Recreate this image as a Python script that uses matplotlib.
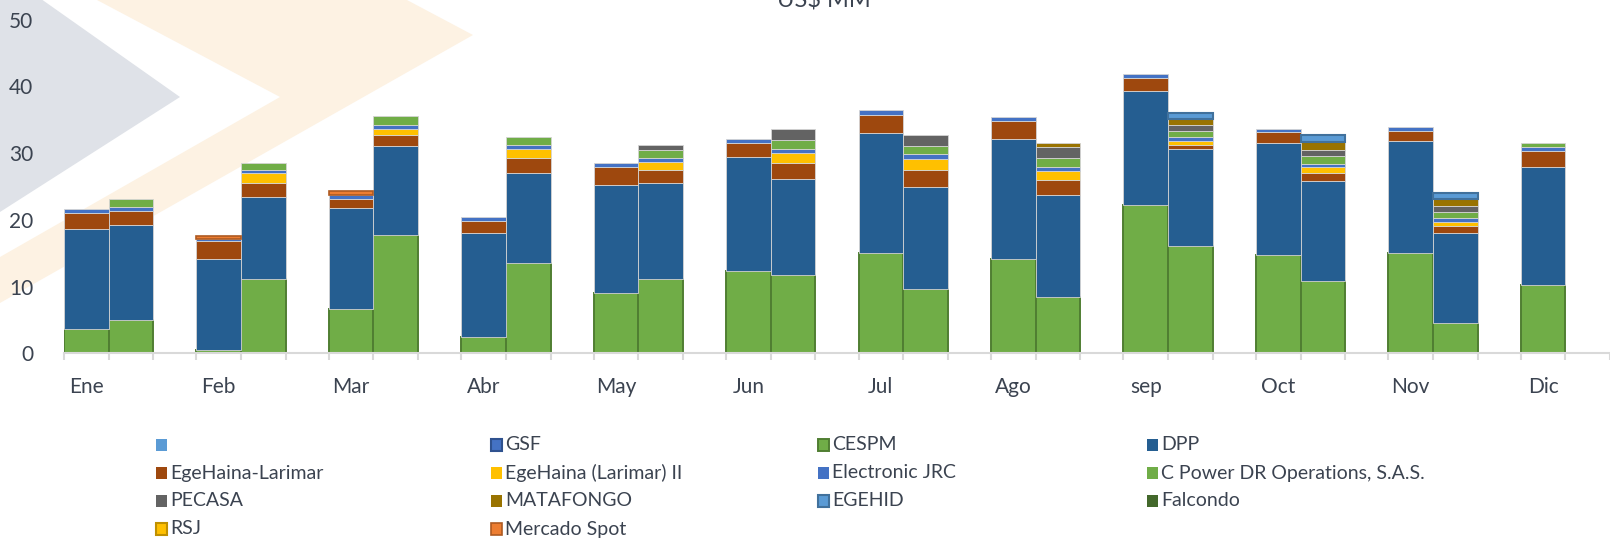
import numpy as np
import matplotlib
matplotlib.use('Agg')
import matplotlib.pyplot as plt
from matplotlib.patches import Polygon, Rectangle

plt.rcParams['font.family'] = ['Lato', 'DejaVu Sans']

months = ['Ene', 'Feb', 'Mar', 'Abr', 'May', 'Jun', 'Jul', 'Ago', 'sep', 'Oct', 'Nov', 'Dic']

# first bar of each month (US$ MM)
cespm_a = [3.7, 0.5, 6.6, 2.5, 9.0, 12.3, 15.0, 14.2, 22.3, 14.8, 15.0, 10.3]
dpp_a = [14.9, 13.6, 15.2, 15.6, 16.3, 17.1, 18.0, 17.9, 17.0, 16.8, 16.9, 17.6]
larimar_a = [2.4, 2.7, 1.4, 1.8, 2.6, 2.2, 2.8, 2.7, 2.0, 1.6, 1.5, 2.5]
larimar2_a = [0, 0, 0, 0, 0, 0, 0, 0, 0, 0, 0, 0]
jrc_a = [0.6, 0.4, 0.5, 0.6, 0.6, 0.5, 0.7, 0.6, 0.6, 0.5, 0.5, 0.5]
cpower_a = [0, 0, 0, 0, 0, 0, 0, 0, 0, 0, 0, 0.7]
pecasa_a = [0, 0, 0, 0, 0, 0, 0, 0, 0, 0, 0, 0]
matafongo_a = [0, 0, 0, 0, 0, 0, 0, 0, 0, 0, 0, 0]
egehid_a = [0, 0, 0, 0, 0, 0, 0, 0, 0, 0, 0, 0]
spot_a = [0, 0.4, 0.6, 0, 0, 0, 0, 0, 0, 0, 0, 0]

# second bar of each month (no December value)
cespm_b = [5.0, 11.2, 17.7, 13.5, 11.1, 11.7, 9.6, 8.4, 16.1, 10.9, 4.6, 0]
dpp_b = [14.3, 12.2, 13.4, 13.6, 14.4, 14.4, 15.3, 15.4, 14.5, 15.0, 13.5, 0]
larimar_b = [2.1, 2.1, 1.6, 2.2, 2.0, 2.5, 2.6, 2.2, 0.6, 1.2, 1.0, 0]
larimar2_b = [0, 1.5, 1.0, 1.4, 1.2, 1.5, 1.7, 1.4, 0.6, 0.8, 0.6, 0]
jrc_b = [0.5, 0.5, 0.6, 0.6, 0.6, 0.6, 0.7, 0.6, 0.7, 0.5, 0.6, 0]
cpower_b = [1.2, 1.0, 1.3, 1.2, 1.2, 1.3, 1.2, 1.3, 0.9, 1.2, 0.9, 0]
pecasa_b = [0, 0, 0, 0, 0.8, 1.7, 1.7, 1.6, 0.9, 0.9, 0.9, 0]
matafongo_b = [0, 0, 0, 0, 0, 0, 0, 0.7, 0.8, 1.2, 1.1, 0]
egehid_b = [0, 0, 0, 0, 0, 0, 0, 0, 1.0, 1.0, 0.9, 0]
spot_b = [0, 0, 0, 0, 0, 0, 0, 0, 0, 0, 0, 0]

zeros = [0] * 12

# name, fill, edge, edge width, values (first bar), values (second bar)
series = [
    ('', '#5B9BD5', None, 0, zeros, zeros),
    ('GSF', '#4472C4', '#2F528F', 1.5, zeros, zeros),
    ('CESPM', '#70AD47', '#507E32', 1.4, cespm_a, cespm_b),
    ('DPP', '#255E91', None, 0, dpp_a, dpp_b),
    ('EgeHaina-Larimar', '#9E480E', None, 0, larimar_a, larimar_b),
    ('EgeHaina (Larimar) II', '#FFC000', None, 0, larimar2_a, larimar2_b),
    ('Electronic JRC', '#4472C4', None, 0, jrc_a, jrc_b),
    ('C Power DR Operations, S.A.S.', '#70AD47', None, 0, cpower_a, cpower_b),
    ('PECASA', '#636363', None, 0, pecasa_a, pecasa_b),
    ('MATAFONGO', '#997300', None, 0, matafongo_a, matafongo_b),
    ('EGEHID', '#5B9BD5', '#41719C', 1.5, egehid_a, egehid_b),
    ('Falcondo', '#43682B', None, 0, zeros, zeros),
    ('RSJ', '#FFC000', '#BF9000', 1.5, zeros, zeros),
    ('Mercado Spot', '#ED7D31', '#AE5A21', 1.2, spot_a, spot_b),
]

W, H = 1610, 539
text_color = '#3b4350'
bar_w = 0.337

fig = plt.figure(figsize=(W / 100, H / 100), dpi=100)

# faint background shapes
def px(pts):
    return [(x / W, 1 - y / H) for x, y in pts]

fig.patches.append(Polygon(px([(0, -30), (180, 97), (0, 212)]), closed=True,
                           transform=fig.transFigure, facecolor='#dfe2e8',
                           edgecolor='none', zorder=-5))
fig.patches.append(Polygon(px([(97, 0), (407, 0), (473, 35), (0, 303), (0, 257), (280, 97)]),
                           closed=True, transform=fig.transFigure, facecolor='#fdf2e3',
                           edgecolor='none', zorder=-5))

ax = fig.add_axes([64 / W, (H - 353.3) / H, 1 - 64 / W, 333.5 / H])
ax.set_facecolor('none')

x = np.arange(len(months))
x_a = x - bar_w / 2
x_b = x + bar_w / 2

bottom_a = np.zeros(len(months))
bottom_b = np.zeros(len(months))
for name, fill, edge, lw, vals_a, vals_b in series:
    for xs, vals, bottom in ((x_a, vals_a, bottom_a), (x_b, vals_b, bottom_b)):
        v = np.asarray(vals, dtype=float)
        keep = v > 0
        if keep.any():
            if edge is None:
                ax.bar(xs[keep], v[keep], bar_w, bottom=bottom[keep], color=fill,
                       edgecolor='#d4d4d4', linewidth=0.6)
            else:
                ax.bar(xs[keep], v[keep], bar_w, bottom=bottom[keep], color=fill,
                       edgecolor=edge, linewidth=lw)
        bottom += v

ax.set_xlim(-bar_w, (W - 109) / 133.5)
ax.set_ylim(0, 50)

ax.set_yticks([0, 10, 20, 30, 40, 50])
ax.tick_params(axis='y', length=0, pad=22, labelsize=15, labelcolor=text_color)

ax.set_xticks(x_a)
ax.set_xticklabels(months)
edges = np.concatenate([x - bar_w, x, x + bar_w])
ax.set_xticks(edges, minor=True)
ax.tick_params(axis='x', which='major', length=0, pad=17, labelsize=15, labelcolor=text_color)
ax.tick_params(axis='x', which='minor', length=5, width=1.5, color='#d9d9d9')

for side in ('top', 'right', 'left'):
    ax.spines[side].set_visible(False)
ax.spines['bottom'].set_color('#d9d9d9')
ax.spines['bottom'].set_linewidth(1.5)

fig.text(824 / W, 1 - 7 / H, 'US$ MM', ha='center', va='baseline',
         fontsize=17, color=text_color)

# legend laid out row by row in four columns
col_x = [156, 491, 818, 1147]
row_y = [445, 473, 501, 529]
for i, (name, fill, edge, lw, _, _) in enumerate(series):
    cx = col_x[i % 4]
    cy = row_y[i // 4]
    fig.patches.append(Rectangle((cx / W, 1 - (cy + 6) / H), 11 / W, 12 / H,
                                 transform=fig.transFigure, facecolor=fill,
                                 edgecolor=edge if edge else 'none',
                                 linewidth=lw if edge else 0))
    fig.text((cx + 14) / W, 1 - cy / H, name, ha='left', va='center',
             fontsize=14, color=text_color)

fig.savefig('out.png', dpi=100)
